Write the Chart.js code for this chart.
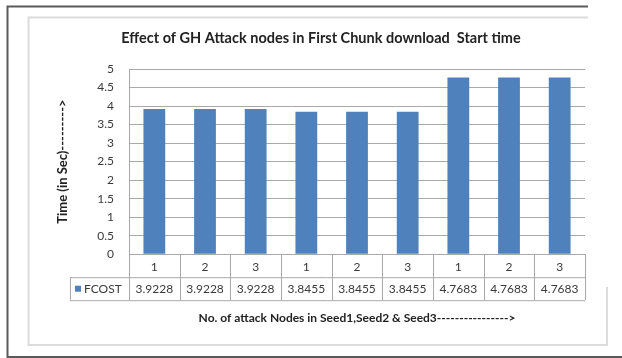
<!DOCTYPE html>
<html>
<head>
<meta charset="utf-8">
<script src="https://cdn.jsdelivr.net/npm/chart.js@4.4.1/dist/chart.umd.min.js"></script>
<style>
  html, body { margin: 0; padding: 0; background: #ffffff; }
  #wrap { width: 622px; height: 358px; }
</style>
</head>
<body>
<div id="wrap"><canvas id="c" width="622" height="358"></canvas></div>
<script>
// Attack-node counts per seed (category axis) and first-chunk start times
const nodeCounts = ['1', '2', '3', '1', '2', '3', '1', '2', '3'];
const fcostTimes = [3.9228, 3.9228, 3.9228, 3.8455, 3.8455, 3.8455, 4.7683, 4.7683, 4.7683];
const seriesName = 'FCOST';
const chartTitle = 'Effect of GH Attack nodes in First Chunk download  Start time';
const xTitle = 'No. of attack Nodes in Seed1,Seed2 & Seed3---------------->';
const yTitle = 'Time (in Sec)--------->';

const BAR_BLUE = '#4F81BD';
const GRID = '#a9a9a9';
const TEXT = '#3a3a3a';
const FONT = 'Lato, "Liberation Sans", sans-serif';

// Frame, title and the data-table row with the series values
const decorPlugin = {
  id: 'decor',
  beforeDraw(chart) {
    const ctx = chart.ctx;
    ctx.save();
    ctx.fillStyle = '#ffffff';
    ctx.fillRect(0, 0, chart.width, chart.height);
    // outer frame
    ctx.strokeStyle = '#5a5a5a';
    ctx.lineWidth = 2;
    ctx.beginPath();
    ctx.moveTo(588, 6.5); ctx.lineTo(7.5, 6.5); ctx.lineTo(7.5, 357); ctx.lineTo(622, 357);
    ctx.stroke();
    // inner chart border
    ctx.strokeStyle = '#dcdcdc';
    ctx.beginPath();
    ctx.moveTo(588, 17.5); ctx.lineTo(28.5, 17.5); ctx.lineTo(28.5, 345); ctx.lineTo(607, 345); ctx.lineTo(607, 287);
    ctx.stroke();
    ctx.restore();
  },
  afterDraw(chart) {
    const ctx = chart.ctx;
    const xs = chart.scales.x;
    const area = chart.chartArea;
    const n = nodeCounts.length;
    const colW = (xs.right - xs.left) / n;
    const row1Top = area.bottom, row1Bot = area.bottom + 23, row2Bot = area.bottom + 46;
    const labelLeft = 70;
    ctx.save();
    // title
    ctx.fillStyle = '#222222';
    ctx.font = 'bold 14.5px ' + FONT;
    ctx.textAlign = 'center';
    ctx.textBaseline = 'middle';
    ctx.fillText(chartTitle, 321, 38);

    // table grid
    ctx.strokeStyle = GRID;
    ctx.lineWidth = 1;
    ctx.beginPath();
    for (let i = 0; i <= n; i++) {
      const x = Math.round(xs.left + i * colW) + 0.5;
      ctx.moveTo(x, row1Top); ctx.lineTo(x, row2Bot);
    }
    ctx.moveTo(labelLeft + 0.5, row1Bot); ctx.lineTo(labelLeft + 0.5, row2Bot);
    ctx.moveTo(labelLeft, row1Bot + 0.5); ctx.lineTo(xs.right, row1Bot + 0.5);
    ctx.moveTo(labelLeft, row2Bot + 0.5); ctx.lineTo(xs.right, row2Bot + 0.5);
    ctx.stroke();

    // legend key + series name
    const rowMid = (row1Bot + row2Bot) / 2;
    ctx.fillStyle = BAR_BLUE;
    ctx.fillRect(75, rowMid - 3, 6, 6);
    ctx.fillStyle = TEXT;
    ctx.font = '12px ' + FONT;
    ctx.textAlign = 'left';
    ctx.fillText(chart.data.datasets[0].label, 84, rowMid + 0.5);

    // values
    ctx.textAlign = 'center';
    chart.data.datasets[0].data.forEach((v, i) => {
      ctx.fillText(String(v), xs.getPixelForValue(i), rowMid + 0.5);
    });
    ctx.restore();
  }
};

new Chart(document.getElementById('c'), {
  type: 'bar',
  data: {
    labels: nodeCounts,
    datasets: [{
      label: seriesName,
      data: fcostTimes,
      backgroundColor: BAR_BLUE,
      borderWidth: 0,
      barPercentage: 0.43,
      categoryPercentage: 1.0
    }]
  },
  options: {
    responsive: false,
    animation: false,
    devicePixelRatio: 1,
    layout: { padding: { left: 28, right: 37, top: 69, bottom: 20 } },
    plugins: {
      legend: { display: false },
      title: { display: false },
      tooltip: { enabled: false }
    },
    scales: {
      x: {
        grid: { display: false, drawTicks: false },
        border: { display: true, color: GRID },
        ticks: { color: TEXT, font: { family: FONT, size: 12 }, padding: 6, maxRotation: 0 },
        title: {
          display: true,
          text: xTitle,
          color: '#222222',
          font: { family: FONT, size: 12, weight: 'bold' },
          padding: { top: 30, bottom: 13 }
        }
      },
      y: {
        min: 0,
        max: 5,
        afterFit(scale) { scale.width = 101; },
        grid: { color: GRID, drawTicks: false },
        border: { display: true, color: GRID },
        ticks: {
          stepSize: 0.5,
          color: TEXT,
          font: { family: FONT, size: 12 },
          padding: 15,
          callback: (v) => String(Number(v))
        },
        title: {
          display: true,
          text: yTitle,
          color: '#222222',
          font: { family: FONT, size: 13, weight: 'bold' },
          padding: { top: 27, bottom: 0 }
        }
      }
    }
  },
  plugins: [decorPlugin]
});
</script>
</body>
</html>
